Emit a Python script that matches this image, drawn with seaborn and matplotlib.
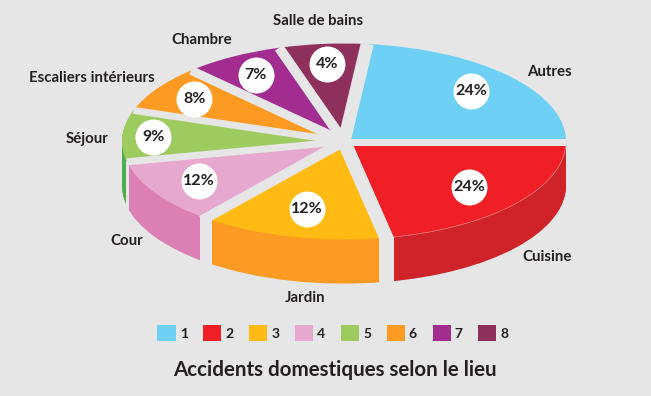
import numpy as np
import matplotlib
matplotlib.use('Agg')
import matplotlib.pyplot as plt
from matplotlib.patches import Patch
import seaborn as sns

# slices in legend order (1-8)
places = ['Autres', 'Cuisine', 'Jardin', 'Cour', 'Séjour', 'Escaliers intérieurs', 'Chambre', 'Salle de bains']
percents = [24, 24, 12, 12, 9, 8, 7, 4]
# share of the ellipse each slice really takes in the drawing, in degrees
drawn_degrees = [84, 79, 49.5, 39.5, 30.5, 28, 26.5, 23]
legend_numbers = ['1', '2', '3', '4', '5', '6', '7', '8']

top_colors = ['#6fd0f5', '#f01f25', '#ffbb14', '#e7a8cf', '#9dcb5f', '#fd9a22', '#a22c8f', '#8e2f5c']
side_colors = ['none', '#d02229', '#fd9a22', '#dc7fb5', '#4eac4c', 'none', 'none', 'none']
BG = '#e6e6e6'
INK = '#231f20'

W, H = 651, 396
CX, CY, RX, RY = 344, 141.5, 222, 98
DEPTH = 0.45
START = 84

# gap after each slice (px), on the top face and down the side
top_gaps = [7, 14, 10, 7, 7, 9, 10, 13]
side_gaps = [0, 15, 12, 3, 0, 0, 0, 0]
badge_dist = [0.77, 0.73, 0.71, 0.77, 0.86, 0.80, 0.79, 0.795]

label_xy = [(549, 72), (547, 257), (305, 298), (127, 241), (87, 139), (92, 78), (202, 40), (318, 21)]

sns.set_theme(style='white', rc={'figure.facecolor': BG, 'axes.facecolor': BG})
plt.rcParams['font.family'] = ['Lato', 'DejaVu Sans']

fig = plt.figure(figsize=(W / 100, H / 100), dpi=100)
ax = fig.add_axes([0, 0, 1, 1])


def px(n):
    return n * 72 / 100


# side faces: same pie stacked downwards
for d in np.linspace(DEPTH, 0.01, 45):
    ax.pie(drawn_degrees, colors=side_colors, startangle=START, counterclock=False,
           center=(0, -d), radius=1, wedgeprops={'linewidth': 0})

ends = START - np.cumsum(drawn_degrees)
mids = ends + np.array(drawn_degrees) / 2

for ang, gap in zip(ends, side_gaps):
    if gap:
        x = np.cos(np.radians(ang))
        y = np.sin(np.radians(ang))
        ax.vlines(x, y - DEPTH - 0.03, y + 0.02, color=BG, linewidth=px(gap), zorder=2)

ax.pie(drawn_degrees, colors=sns.color_palette(top_colors), startangle=START, counterclock=False,
       center=(0, 0), radius=1, wedgeprops={'linewidth': 0, 'zorder': 3})

# thin light seam where the Cuisine top meets its side
seam = np.radians(np.linspace(ends[0], ends[1] + 2, 60))
ax.plot(np.cos(seam), np.sin(seam), color='#f58a8a', linewidth=0.5, zorder=3.5)

for ang, gap, side in zip(ends, top_gaps, side_gaps):
    reach = 1.03 if side >= 10 else 1.0
    x = reach * np.cos(np.radians(ang))
    y = reach * np.sin(np.radians(ang))
    ax.plot([0, x], [0, y], color=BG, linewidth=px(gap), solid_capstyle='butt', zorder=4)

# white badges with the percentages
for ang, dist, pct in zip(mids, badge_dist, percents):
    x = dist * np.cos(np.radians(ang))
    y = dist * np.sin(np.radians(ang))
    ax.scatter([x], [y], s=px(36) ** 2, color='white', linewidth=0, zorder=5)
    ax.text(x, y, f'{pct}%', ha='center', va='center', fontsize=11.5, fontweight='bold',
            color=INK, zorder=6)

ax.set_aspect('auto')
ax.set_xlim(-CX / RX, (W - CX) / RX)
ax.set_ylim((CY - H) / RY, CY / RY)
ax.axis('off')

for name, (lx, ly) in zip(places, label_xy):
    fig.text(lx / W, 1 - ly / H, name, ha='center', va='center', fontsize=10.8,
             fontweight='bold', color=INK)

handles = [Patch(facecolor=c, edgecolor='none', label=n) for c, n in zip(top_colors, legend_numbers)]
fig.legend(handles=handles, ncol=8, frameon=False, loc='center', bbox_to_anchor=(333 / W, 1 - 333 / H),
           labelcolor=INK, prop={'size': 10, 'weight': 'bold'}, handlelength=1.3,
           handleheight=1.3, handletextpad=0.3, columnspacing=1.12, borderpad=0, borderaxespad=0)

fig.text(335 / W, 1 - 370 / H, 'Accidents domestiques selon le lieu', ha='center', va='center',
         fontsize=14.8, fontweight='bold', color=INK)

fig.savefig('out.png', dpi=100, facecolor=BG)
